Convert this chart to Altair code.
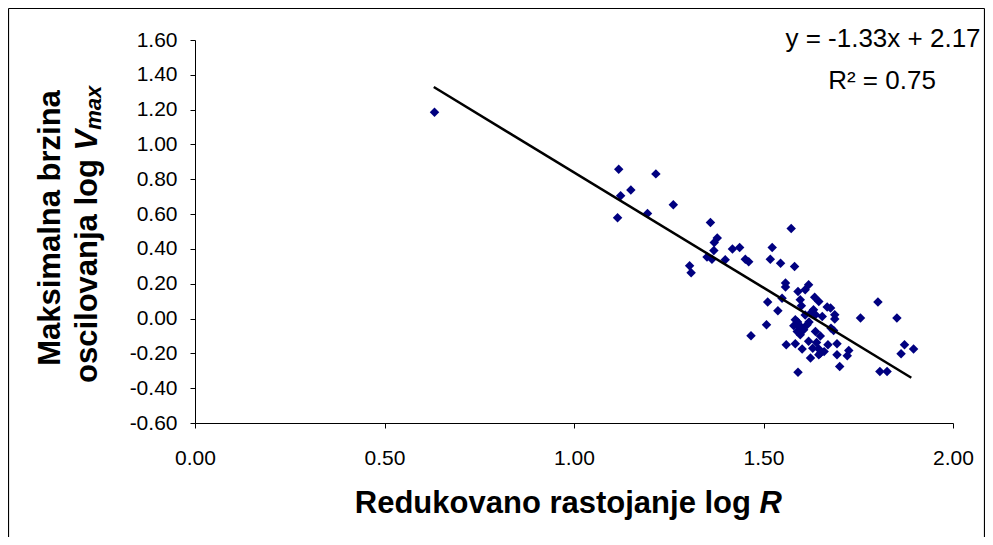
import altair as alt
import pandas as pd

# ---- data ----
log_R = [0.632, 1.118, 1.216, 1.150, 1.123, 1.262, 1.194, 1.115, 1.305, 1.309,
         1.360, 1.573, 1.378, 1.370, 1.418, 1.437, 1.523, 1.369, 1.351, 1.364,
         1.399, 1.452, 1.461, 1.518, 1.545, 1.582, 1.558, 1.558, 1.619, 1.610,
         1.591, 1.549, 1.597, 1.635, 1.646, 1.511, 1.668, 1.600, 1.538, 1.626,
         1.637, 1.677, 1.688, 1.655, 1.756, 1.852, 1.802, 1.688, 1.508, 1.584,
         1.580, 1.593, 1.615, 1.589, 1.606, 1.597, 1.637, 1.678, 1.685, 1.467,
         1.560, 1.584, 1.602, 1.619, 1.640, 1.670, 1.694, 1.646, 1.646, 1.624,
         1.694, 1.721, 1.725, 1.701, 1.591, 1.807, 1.826, 1.872, 1.896, 1.863,
         1.632, 1.650, 1.590, 1.600, 1.620, 1.610, 1.650, 1.660, 1.630]
log_V = [1.185, 0.858, 0.831, 0.739, 0.705, 0.653, 0.603, 0.579, 0.303, 0.263,
         0.552, 0.517, 0.462, 0.437, 0.399, 0.408, 0.408, 0.391, 0.353, 0.341,
         0.338, 0.341, 0.326, 0.341, 0.318, 0.299, 0.204, 0.181, 0.194, 0.165,
         0.156, 0.117, 0.108, 0.123, 0.098, 0.095, 0.066, 0.073, 0.045, 0.035,
         0.022, 0.060, 0.022, 0.012, 0.003, 0.003, 0.095, -0.003, -0.036, -0.007,
         -0.041, -0.045, -0.036, -0.074, -0.064, -0.093, -0.074, -0.055, -0.068, -0.099,
         -0.150, -0.145, -0.175, -0.131, -0.137, -0.150, -0.145, -0.175, -0.208, -0.227,
         -0.208, -0.214, -0.183, -0.275, -0.309, -0.304, -0.304, -0.150, -0.175, -0.202,
         0.050, -0.200, -0.020, -0.050, -0.020, 0.020, -0.100, -0.190, -0.170]

trend_x = [0.63, 1.89]
trend_y = [1.33, -0.34]

x_ticks = [0.0, 0.5, 1.0, 1.5, 2.0]
y_ticks = [-0.6, -0.4, -0.2, 0.0, 0.2, 0.4, 0.6, 0.8, 1.0, 1.2, 1.4, 1.6]

equation_lines = ["y = -1.33x + 2.17", "R² = 0.75"]
x_title = ["Redukovano rastojanje log", "R"]
y_title = ["Maksimalna brzina", "oscilovanja log", "V", "max"]

FONT = "Liberation Sans"
W, H = 758, 383

pts = pd.DataFrame({"logR": log_R, "logV": log_V})
trend = pd.DataFrame({"x": trend_x, "y": trend_y})

label_expr = "(datum.value < 0 ? '-' : '') + format(abs(datum.value), '.2f')"

xs = alt.Scale(domain=[0, 2], nice=False, zero=False)
ys = alt.Scale(domain=[-0.6, 1.6], nice=False, zero=False)

x_axis = alt.Axis(
    values=x_ticks, labelExpr=label_expr, title=None, grid=False,
    domainColor="black", tickColor="black", tickSize=5,
    labelFont=FONT, labelFontSize=21, labelColor="black", labelPadding=19,
    labelFlush=False, labelOverlap=False)
y_axis = alt.Axis(
    values=y_ticks, labelExpr=label_expr, title=None, grid=False,
    domainColor="black", tickColor="black", tickSize=5,
    labelFont=FONT, labelFontSize=21, labelColor="black", labelPadding=13,
    labelFlush=False, labelOverlap=False)

points = alt.Chart(pts).mark_point(
    shape="diamond", filled=True, size=90, color="#000080", opacity=1
).encode(
    x=alt.X("logR:Q", scale=xs, axis=x_axis),
    y=alt.Y("logV:Q", scale=ys, axis=y_axis),
)

line = alt.Chart(trend).mark_line(color="black", strokeWidth=2.5).encode(
    x=alt.X("x:Q", scale=xs, axis=x_axis), y=alt.Y("y:Q", scale=ys, axis=y_axis)
)

def txt(s, x, y, size, bold=False, italic=False, align="center", angle=0):
    kw = dict(font=FONT, fontSize=size, color="black", align=align,
              baseline="alphabetic", fontWeight="bold" if bold else "normal",
              fontStyle="italic" if italic else "normal")
    if angle:
        kw["angle"] = angle
    return alt.Chart(pd.DataFrame({"t": [s]})).mark_text(**kw).encode(
        x=alt.value(x), y=alt.value(y), text="t:N")

eq1 = txt(equation_lines[0], 688, 7, 26)
eq2 = txt(equation_lines[1], 687, 49, 26)

xt1 = txt(x_title[0], 556, 473, 31, bold=True, align="right")
xt2 = txt(x_title[1], 564.6, 473, 31, bold=True, italic=True, align="left")

yt1 = txt(y_title[0], -135, 188, 31, bold=True, angle=270)
yt2 = txt(y_title[1], -98, 343, 31, bold=True, align="left", angle=270)
yt3 = txt(y_title[2], -98, 110.4, 31, bold=True, italic=True, align="left", angle=270)
yt4 = txt(y_title[3], -94, 89.7, 22, bold=True, italic=True, align="left", angle=270)

def rule(**enc):
    return alt.Chart(pd.DataFrame({"k": [0]})).mark_rule(
        color="black", strokeWidth=1.2).encode(**{k: alt.value(v) for k, v in enc.items()})

b_left = rule(x=-186.5, y=-31.5, y2=497)
b_top = rule(x=-186.5, x2=789.5, y=-31.5)
b_right = rule(x=789.5, y=-31.5, y2=497)

chart = alt.layer(
    points, line, eq1, eq2, xt1, xt2, yt1, yt2, yt3, yt4, b_left, b_top, b_right
).properties(
    width=W, height=H,
    autosize=alt.AutoSizeParams(type="none"),
    padding={"left": 187, "top": 32, "right": 32, "bottom": 114},
    background="white",
).configure_view(stroke=None)

chart.save("out.html", embed_options={"renderer": "svg", "actions": False})
